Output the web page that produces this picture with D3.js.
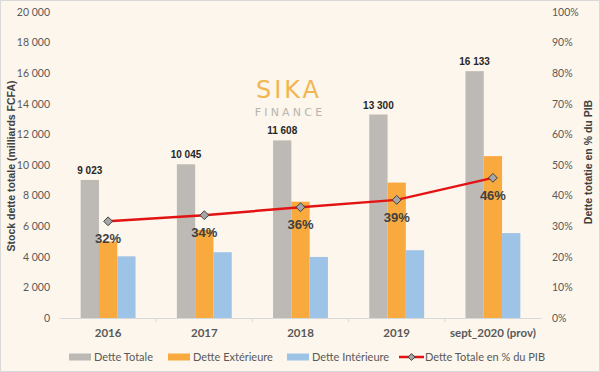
<!DOCTYPE html>
<html>
<head>
<meta charset="utf-8">
<script src="https://cdn.jsdelivr.net/npm/d3@7"></script>
<style>
  html, body { margin: 0; padding: 0; background: #fdf6ec; }
  svg { display: block; }
</style>
</head>
<body>
<svg id="chart" width="600" height="372"></svg>
<script>
// Data
const categories = ['2016', '2017', '2018', '2019', 'sept_2020 (prov)'];
const detteTotale = [9023, 10045, 11608, 13300, 16133];
const detteExterieure = [5000, 5750, 7600, 8850, 10580];
const detteInterieure = [4030, 4300, 3990, 4430, 5550];
const dettePib = [31.6, 33.6, 36.2, 38.6, 45.8];
const seriesNames = ['Dette Totale', 'Dette Extérieure', 'Dette Intérieure'];
const lineName = 'Dette Totale en % du PIB';
const leftTicks = [0, 2000, 4000, 6000, 8000, 10000, 12000, 14000, 16000, 18000, 20000];
const rightTicks = [0, 10, 20, 30, 40, 50, 60, 70, 80, 90, 100];

const colors = ['#bdb9b5', '#f9aa3e', '#9dc3e6'];
const lineColor = '#e31313';
const tickFont = 'Lato, "Open Sans", sans-serif';
const boldFont = '"Liberation Sans", Arial, sans-serif';

const svg = d3.select('#chart');
const W = 600, H = 372;
const plot = { left: 60, right: 541, top: 12, bottom: 318 };

// background + border
svg.append('rect')
    .attr('x', 0.5).attr('y', 0.5)
    .attr('width', W - 1).attr('height', H - 1)
    .attr('fill', '#fdf6ec')
    .attr('stroke', '#d9d9d9');

const locale = d3.formatLocale({ decimal: ',', thousands: ' ', grouping: [3], currency: ['', ''] });
const fmt = locale.format(',d');

const x = d3.scaleBand().domain(categories).range([plot.left, plot.right]).padding(0);
const xInner = d3.scaleBand().domain(seriesNames).range([0, x.bandwidth()])
    .paddingInner(0).paddingOuter(1.13);
const y = d3.scaleLinear().domain([0, 20000]).range([plot.bottom, plot.top]);
const y2 = d3.scaleLinear().domain([0, 100]).range([plot.bottom, plot.top]);

// watermark logo
svg.append('text')
    .attr('x', 289).attr('y', 98)
    .attr('text-anchor', 'middle')
    .attr('font-family', '"DejaVu Sans", sans-serif')
    .attr('font-size', 24)
    .attr('letter-spacing', 3)
    .attr('fill', '#f2b650')
    .text('SIKA');
svg.append('text')
    .attr('x', 290).attr('y', 116)
    .attr('text-anchor', 'middle')
    .attr('font-family', '"DejaVu Sans", sans-serif')
    .attr('font-size', 11)
    .attr('letter-spacing', 3.2)
    .attr('fill', '#b8b4b0')
    .text('FINANCE');

// left axis
const leftAxis = svg.append('g')
    .attr('transform', `translate(${plot.left},0)`)
    .call(d3.axisLeft(y).tickValues(leftTicks).tickFormat(fmt).tickSize(0).tickPadding(10));
leftAxis.select('.domain').remove();
leftAxis.selectAll('text')
    .attr('font-family', tickFont).attr('font-size', 10.5).attr('fill', '#595959');

// right axis
const rightAxis = svg.append('g')
    .attr('transform', `translate(${plot.right},0)`)
    .call(d3.axisRight(y2).tickValues(rightTicks).tickFormat(d => d + '%').tickSize(0).tickPadding(11));
rightAxis.select('.domain').remove();
rightAxis.selectAll('text')
    .attr('font-family', tickFont).attr('font-size', 10.5).attr('fill', '#595959');

// bottom axis
const bottomAxis = svg.append('g')
    .attr('transform', `translate(0,${plot.bottom})`)
    .call(d3.axisBottom(x).tickSize(0).tickPadding(11));
bottomAxis.select('.domain').attr('stroke', '#d9d9d9');
bottomAxis.selectAll('text')
    .attr('font-family', tickFont).attr('font-weight', 'bold')
    .attr('font-size', 11.5).attr('fill', '#595959');
bottomAxis.selectAll('.sep')
    .data(categories.slice(1))
    .join('line')
    .attr('class', 'sep')
    .attr('x1', d => x(d)).attr('x2', d => x(d))
    .attr('y1', 0).attr('y2', 4)
    .attr('stroke', '#d9d9d9');

// bars
const seriesValues = [detteTotale, detteExterieure, detteInterieure];
const barData = [];
categories.forEach((c, i) => {
    seriesNames.forEach((s, j) => {
        barData.push({ cat: c, series: s, value: seriesValues[j][i], color: colors[j] });
    });
});
svg.append('g')
    .selectAll('rect')
    .data(barData)
    .join('rect')
    .attr('x', d => x(d.cat) + xInner(d.series))
    .attr('y', d => y(d.value))
    .attr('width', xInner.bandwidth())
    .attr('height', d => y(0) - y(d.value))
    .attr('fill', d => d.color);

// total labels
svg.append('g')
    .selectAll('text')
    .data(categories)
    .join('text')
    .attr('x', (d, i) => x(d) + xInner('Dette Totale') + xInner.bandwidth() / 2)
    .attr('y', (d, i) => y(detteTotale[i]) - 6)
    .attr('text-anchor', 'middle')
    .attr('font-family', boldFont).attr('font-weight', 'bold')
    .attr('font-size', 10).attr('fill', '#262626')
    .text((d, i) => fmt(detteTotale[i]));

// line
const pts = categories.map((c, i) => ({ x: x(c) + x.bandwidth() / 2, y: y2(dettePib[i]), v: dettePib[i] }));
svg.append('path')
    .datum(pts)
    .attr('fill', 'none')
    .attr('stroke', lineColor)
    .attr('stroke-width', 2.5)
    .attr('d', d3.line().x(d => d.x).y(d => d.y));

const diamond = d3.symbol().type(d3.symbolDiamond2).size(50);
svg.append('g')
    .selectAll('path')
    .data(pts)
    .join('path')
    .attr('transform', d => `translate(${d.x},${d.y})`)
    .attr('d', diamond)
    .attr('fill', '#a6a6a6')
    .attr('stroke', '#404040')
    .attr('stroke-width', 1);

svg.append('g')
    .selectAll('text')
    .data(pts)
    .join('text')
    .attr('x', d => d.x)
    .attr('y', d => d.y + 22)
    .attr('text-anchor', 'middle')
    .attr('font-family', boldFont).attr('font-weight', 'bold')
    .attr('font-size', 13).attr('fill', '#404040')
    .text(d => d.v.toFixed(0) + '%');

// axis titles
svg.append('text')
    .attr('transform', 'translate(15,166) rotate(-90)')
    .attr('text-anchor', 'middle')
    .attr('font-family', boldFont).attr('font-weight', 'bold')
    .attr('font-size', 10.5).attr('fill', '#404040')
    .text('Stock dette totale (milliards FCFA)');
svg.append('text')
    .attr('transform', 'translate(592,162) rotate(-90)')
    .attr('text-anchor', 'middle')
    .attr('font-family', boldFont).attr('font-weight', 'bold')
    .attr('font-size', 10.5).attr('fill', '#404040')
    .text('Dette totatie en % du PIB');

// legend
const legendY = 357;
const legendItems = [
    { name: seriesNames[0], x: 69, type: 'rect', color: colors[0] },
    { name: seriesNames[1], x: 168, type: 'rect', color: colors[1] },
    { name: seriesNames[2], x: 287, type: 'rect', color: colors[2] },
    { name: lineName, x: 399, type: 'line', color: lineColor }
];
const leg = svg.append('g')
    .selectAll('g')
    .data(legendItems)
    .join('g')
    .attr('transform', d => `translate(${d.x},${legendY})`);
leg.filter(d => d.type === 'rect').append('rect')
    .attr('x', 0).attr('y', -3.5).attr('width', 22).attr('height', 7)
    .attr('fill', d => d.color);
leg.filter(d => d.type === 'line').append('line')
    .attr('x1', 0).attr('x2', 25).attr('y1', 0).attr('y2', 0)
    .attr('stroke', d => d.color).attr('stroke-width', 2.5);
leg.filter(d => d.type === 'line').append('path')
    .attr('transform', 'translate(12.5,0)')
    .attr('d', d3.symbol().type(d3.symbolDiamond2).size(30))
    .attr('fill', '#a6a6a6').attr('stroke', '#404040');
leg.append('text')
    .attr('x', d => d.type === 'line' ? 26 : 25)
    .attr('y', 0)
    .attr('dy', '0.35em')
    .attr('font-family', tickFont).attr('font-size', 11).attr('fill', '#595959')
    .text(d => d.name);
</script>
</body>
</html>
